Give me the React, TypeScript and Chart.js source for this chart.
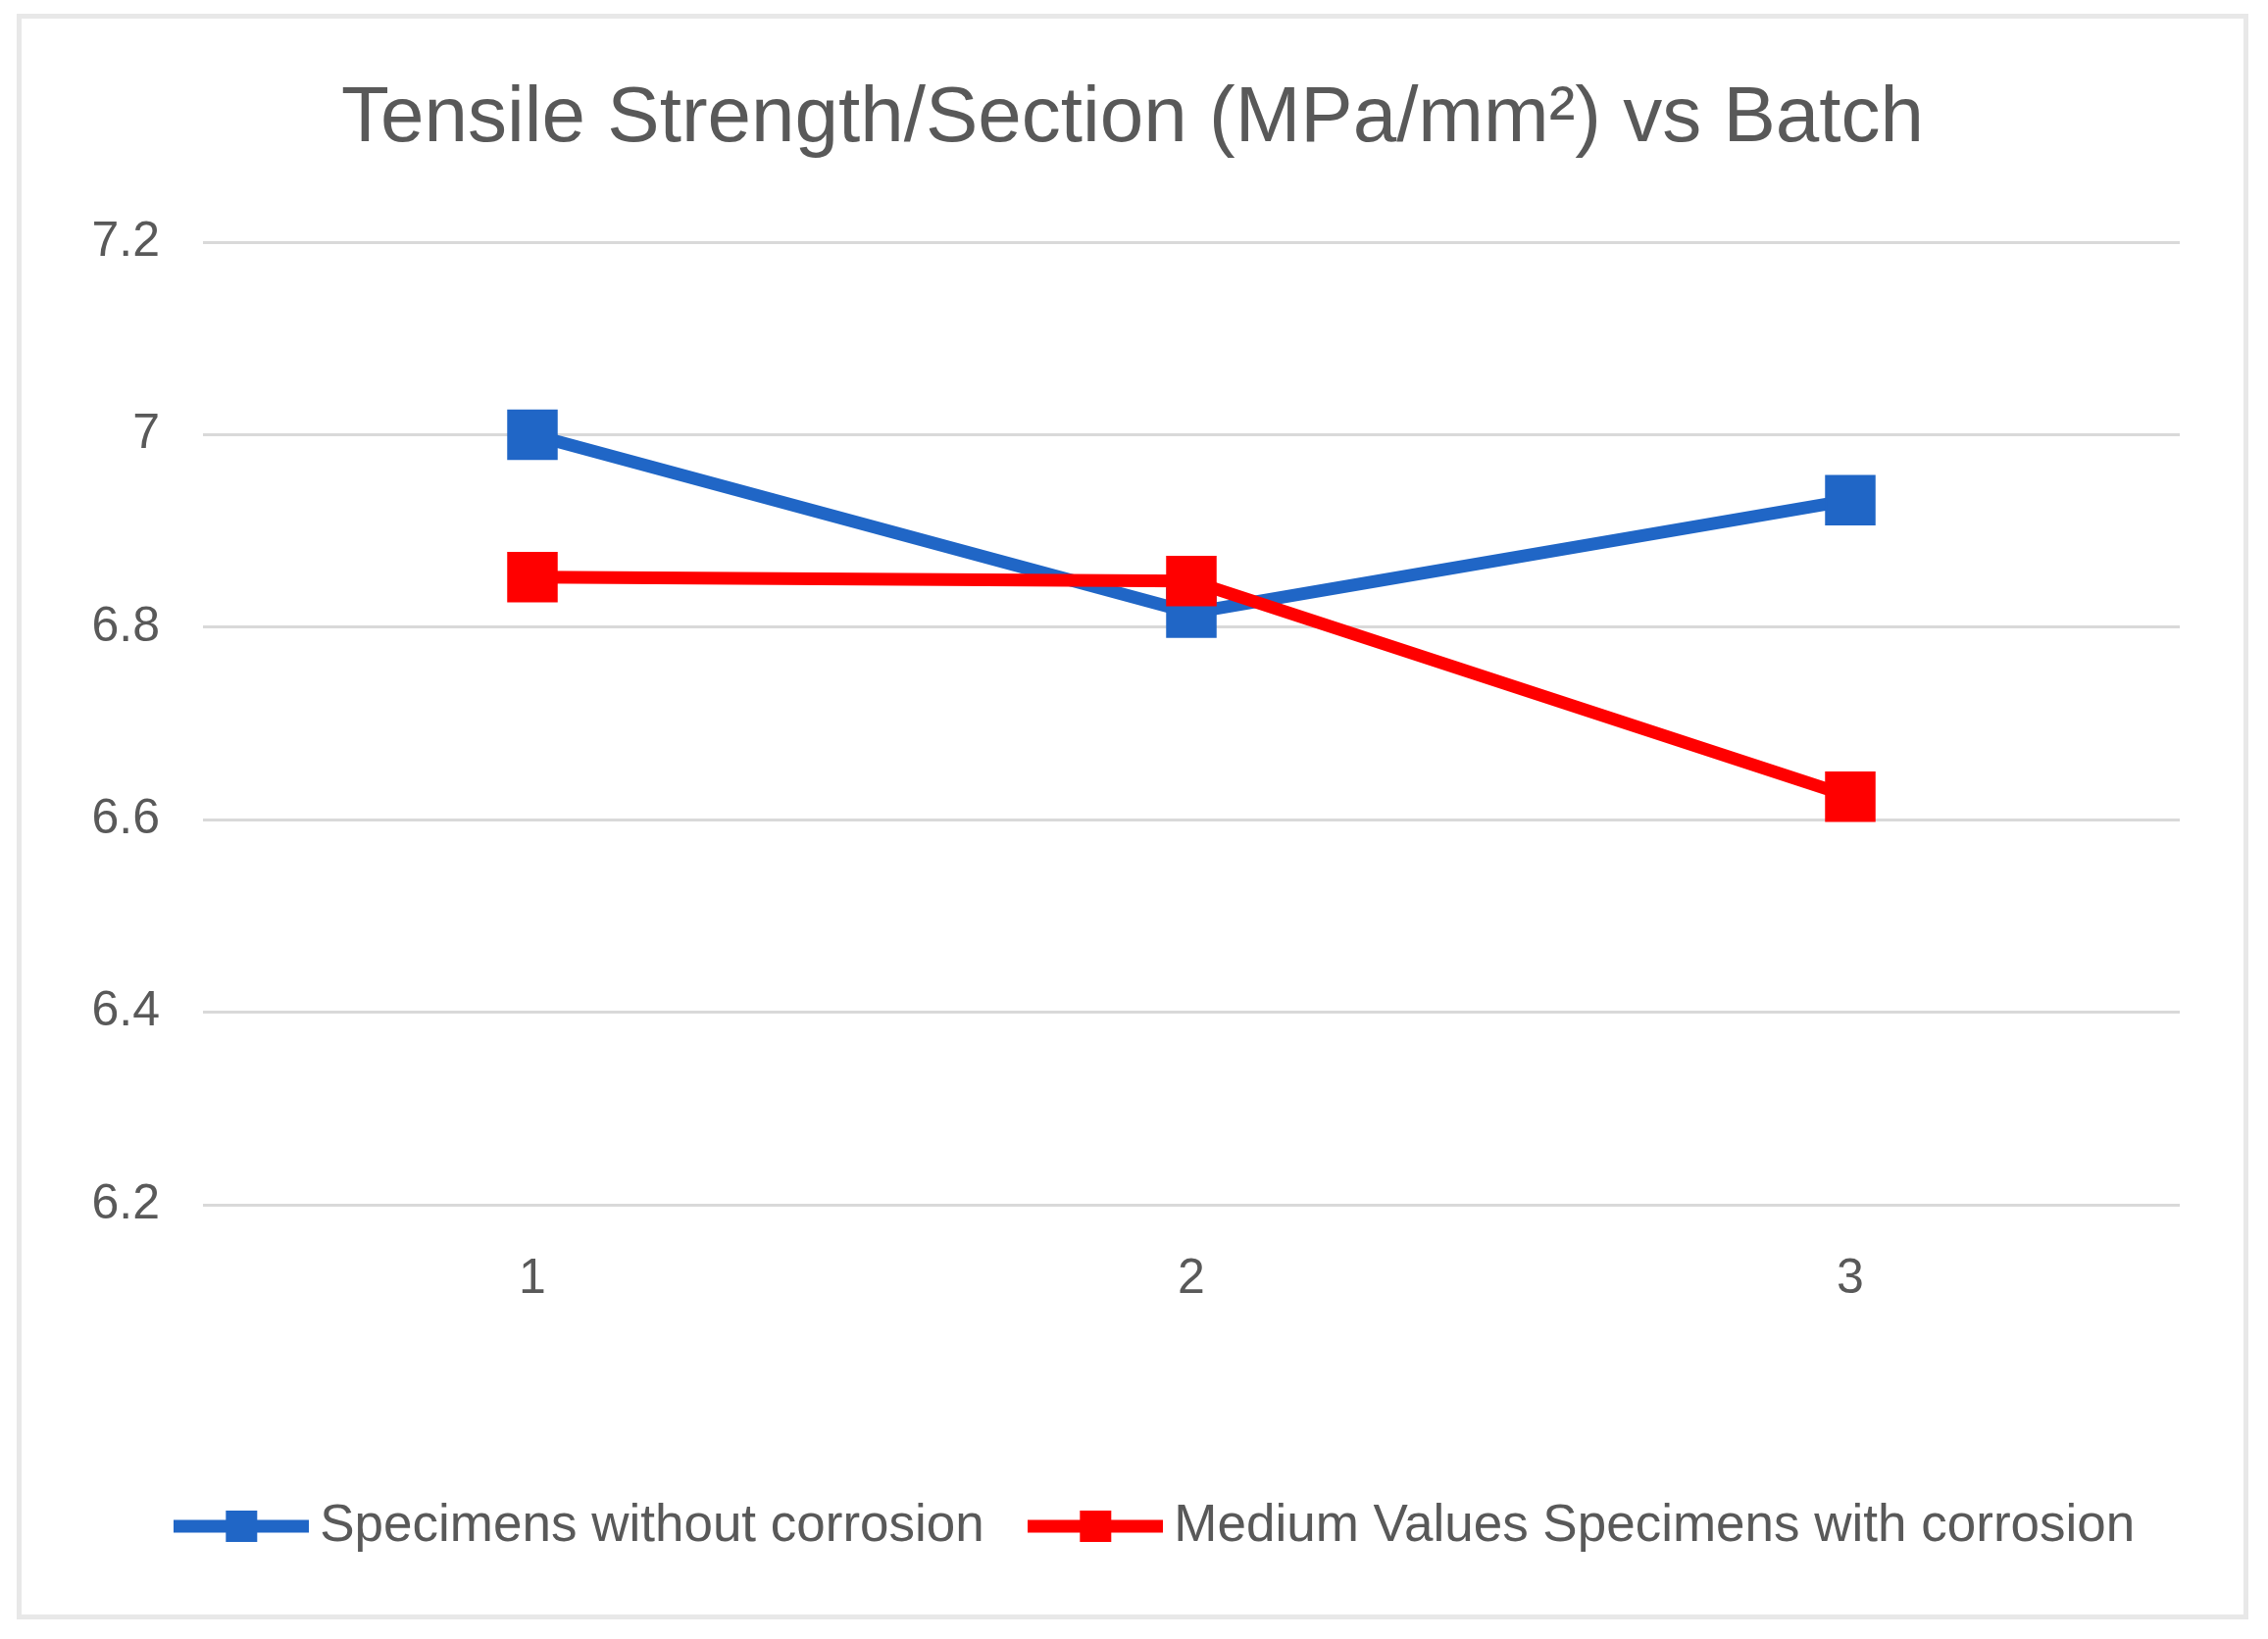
import React, { useEffect, useRef } from 'react';
import { Chart, registerables } from 'chart.js';

Chart.register(...registerables);

const TITLE = 'Tensile Strength/Section (MPa/mm²) vs Batch';
const CATEGORIES = ['1', '2', '3'];
const SERIES_NAMES = ['Specimens without corrosion', 'Medium Values Specimens with corrosion'];
const WITHOUT_CORROSION = [7.0, 6.815, 6.932];
const WITH_CORROSION = [6.852, 6.848, 6.624];
const Y_MIN = 6.2;
const Y_MAX = 7.2;
const Y_STEP = 0.2;
const COLORS = ['#2066c6', '#ff0000'];

const FONT = "'Liberation Sans', Arial, sans-serif";
const TEXT = '#595959';

function legendImage(color: string) {
  const c = document.createElement('canvas');
  c.width = 138;
  c.height = 36;
  const ctx = c.getContext('2d')!;
  ctx.fillStyle = color;
  ctx.fillRect(0, 18 - 6.5, 138, 13);
  ctx.fillRect(69 - 16, 2, 32, 32);
  return c;
}

const legendNudge = {
  id: 'legendNudge',
  afterLayout(chart: any) {
    const lg = chart.legend;
    if (lg) {
      lg.left += 30;
      lg.right += 30;
    }
  },
};

export default function App() {
  const ref = useRef<HTMLCanvasElement | null>(null);

  useEffect(() => {
    if (!ref.current) return;
    const images = COLORS.map(legendImage);
    const chart = new Chart(ref.current, {
      type: 'line',
      data: {
        labels: CATEGORIES,
        datasets: [
          {
            label: SERIES_NAMES[0],
            data: WITHOUT_CORROSION,
            borderColor: COLORS[0],
            backgroundColor: COLORS[0],
            borderWidth: 13,
            pointStyle: 'rect',
            pointRadius: 35,
            pointBorderWidth: 2,
            pointBackgroundColor: COLORS[0],
            pointBorderColor: COLORS[0],
            order: 2,
            tension: 0,
          },
          {
            label: SERIES_NAMES[1],
            data: WITH_CORROSION,
            borderColor: COLORS[1],
            backgroundColor: COLORS[1],
            borderWidth: 13,
            pointStyle: 'rect',
            pointRadius: 35,
            pointBorderWidth: 2,
            pointBackgroundColor: COLORS[1],
            pointBorderColor: COLORS[1],
            order: 1,
            tension: 0,
          },
        ],
      },
      options: {
        responsive: false,
        animation: false,
        devicePixelRatio: 1,
        layout: { padding: { left: 79, right: 82, top: 0, bottom: 70.5 } },
        plugins: {
          tooltip: { enabled: false },
          title: {
            display: true,
            text: TITLE,
            color: TEXT,
            font: { family: FONT, size: 80, weight: 'normal', lineHeight: 1.2 },
            padding: { top: 65.5, bottom: 77.5 },
          },
          legend: {
            position: 'bottom',
            labels: {
              usePointStyle: true,
              pointStyleWidth: 107,
              padding: 60,
              color: TEXT,
              font: { family: FONT, size: 53 },
              sort: (a: any, b: any) => a.datasetIndex - b.datasetIndex,
              generateLabels: (ch: any) => {
                const items = (Chart.defaults.plugins.legend.labels as any).generateLabels(ch);
                items.forEach((it: any) => {
                  it.pointStyle = images[it.datasetIndex];
                });
                return items;
              },
            },
          },
        },
        scales: {
          x: {
            type: 'category',
            offset: true,
            grid: { display: false, drawTicks: false },
            border: { display: false },
            ticks: { color: TEXT, font: { family: FONT, size: 50 }, padding: 46 },
            afterFit: (s: any) => {
              s.height = 241.5;
            },
          },
          y: {
            min: Y_MIN,
            max: Y_MAX,
            grid: { color: '#d9d9d9', lineWidth: 3, drawTicks: false },
            border: { display: false },
            ticks: {
              stepSize: Y_STEP,
              color: TEXT,
              font: { family: FONT, size: 50 },
              padding: 44,
              callback: (v: any) => String(Number(Number(v).toFixed(2))),
            },
            afterFit: (s: any) => {
              s.width = 120;
            },
          },
        },
      },
      plugins: [legendNudge],
    });
    return () => chart.destroy();
  }, []);

  return (
    <div style={{ position: 'relative', width: 2297, height: 1656 }}>
      <div
        style={{
          position: 'absolute',
          left: 9,
          top: 6,
          width: 2276,
          height: 1638,
          border: '5px solid #e8e8e8',
          boxSizing: 'border-box',
        }}
      />
      <canvas ref={ref} width={2297} height={1656} style={{ position: 'absolute', left: 0, top: 0 }} />
    </div>
  );
}
